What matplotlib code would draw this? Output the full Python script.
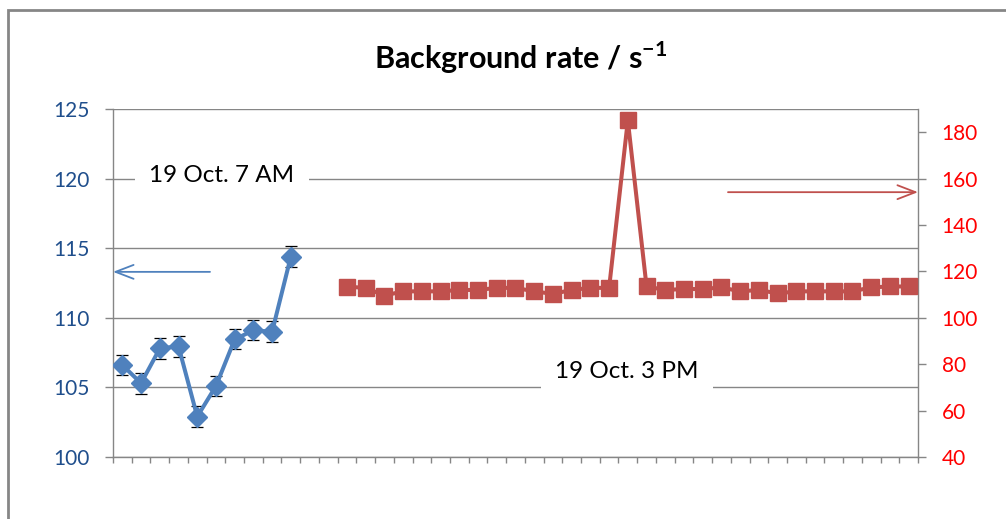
import matplotlib
matplotlib.use("Agg")
import matplotlib.pyplot as plt
from matplotlib.patches import Rectangle
import numpy as np

plt.rcParams['font.family'] = ['Lato', 'DejaVu Sans']
plt.rcParams['mathtext.fontset'] = 'custom'
plt.rcParams['mathtext.rm'] = 'Lato'
plt.rcParams['mathtext.bf'] = 'Lato:bold'

# data
n_categories = 43
morning_x = list(range(0, 10))
morning_rate = [106.6, 105.3, 107.8, 107.95, 102.9, 105.1, 108.45, 109.1, 109.0, 114.4]
morning_err = [0.72, 0.74, 0.75, 0.75, 0.77, 0.72, 0.72, 0.72, 0.74, 0.75]

afternoon_x = list(range(12, 43))
afternoon_rate = [113.4, 112.9, 109.6, 111.4, 111.4, 111.4, 112.0, 112.0, 112.9, 112.9,
                  111.4, 110.3, 112.0, 112.9, 112.9, 185.1, 113.5, 112.0, 112.4, 112.4,
                  113.1, 111.4, 112.0, 110.5, 111.4, 111.4, 111.4, 111.4, 113.1, 113.5, 113.5]

left_ticks = [100, 105, 110, 115, 120, 125]
right_ticks = [40, 60, 80, 100, 120, 140, 160, 180]

blue = '#4F81BD'
red = '#C0504D'
grey = '#868686'

W, H = 1006, 519
fig = plt.figure(figsize=(W / 100, H / 100), dpi=100)
ax = fig.add_axes([113 / W, 1 - 457 / H, (918 - 113) / W, (457 - 109) / H])
ax2 = ax.twinx()

# blue series with error bars (left axis)
ax.errorbar(morning_x, morning_rate, yerr=morning_err, fmt='none', ecolor='black',
            elinewidth=0.9, capsize=4.5, capthick=0.9, zorder=3)
ax.plot(morning_x, morning_rate, color=blue, lw=2.9, marker='D', markersize=10.5,
        markerfacecolor=blue, markeredgecolor=blue, zorder=4)

# red series (right axis)
ax2.plot(afternoon_x, afternoon_rate, color=red, lw=2.9, marker='s', markersize=11.5,
         markerfacecolor=red, markeredgecolor=red, zorder=4)

ax.set_xlim(-0.5, n_categories - 0.5)
ax.set_ylim(100, 125)
ax2.set_ylim(40, 190)
ax.set_yticks(left_ticks)
ax2.set_yticks(right_ticks)
ax.set_xticks(np.arange(-0.5, n_categories, 1.0))
ax.set_xticklabels([])

ax.yaxis.grid(True, color=grey, lw=1.0)
ax.set_axisbelow(True)

for a in (ax, ax2):
    for s in a.spines.values():
        s.set_color(grey)
        s.set_linewidth(1.0)
    a.spines['top'].set_visible(False)
ax.spines['right'].set_visible(False)
ax2.spines['left'].set_visible(False)
ax2.spines['bottom'].set_visible(False)

ax.tick_params(axis='x', direction='out', length=4, width=1, color=grey)
ax.tick_params(axis='y', direction='out', length=6, width=1, color=grey,
               labelsize=15, labelcolor='#1F4E8C', pad=11)
ax2.tick_params(axis='y', direction='out', length=6, width=1, color=grey,
                labelsize=15, labelcolor='#FF0000', pad=11)

# annotations
box = dict(boxstyle='square,pad=0.6', facecolor='white', edgecolor='none')
ax.text((222 - 113) / 805, 0.81, '19 Oct. 7 AM', transform=ax.transAxes, ha='center', va='center',
        fontsize=17.5, color='black', bbox=box, zorder=2)
ax.text((627 - 113) / 805, (457 - 371) / 348, '19 Oct. 3 PM', transform=ax.transAxes,
        ha='center', va='center', fontsize=17.5, color='black', bbox=box, zorder=2)

ax.annotate('', xy=(0, 0.532), xytext=((210 - 113) / 805, 0.532), xycoords='axes fraction',
            arrowprops=dict(arrowstyle='->,head_length=1.3,head_width=0.5', color=blue,
                            lw=1.3, shrinkA=0, shrinkB=0))
ax2.annotate('', xy=(1, 0.761), xytext=((728 - 113) / 805, 0.761), xycoords='axes fraction',
             arrowprops=dict(arrowstyle='->,head_length=1.3,head_width=0.5', color=red,
                             lw=1.3, shrinkA=0, shrinkB=0))

fig.text(521 / W, 1 - 58 / H, r'Background rate / s$^{\mathbf{-1}}$', ha='center',
         va='center', fontsize=22, fontweight='bold')

# outer chart border
fig.patches.append(Rectangle((8 / W, -0.2), 1.2, 1.2 - 10 / H, transform=fig.transFigure,
                             facecolor='none', edgecolor=grey, lw=2, zorder=0))

fig.savefig('out.png', dpi=100)
